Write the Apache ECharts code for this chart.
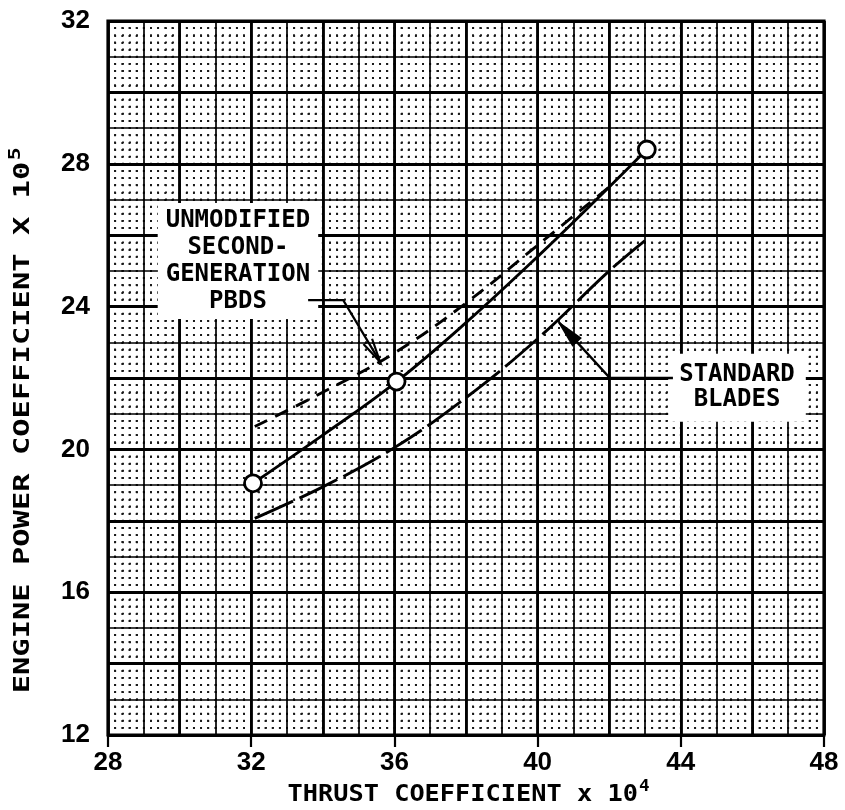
<!DOCTYPE html>
<html>
<head>
<meta charset="utf-8">
<script src="https://cdn.jsdelivr.net/npm/echarts@6/dist/echarts.min.js"></script>
<style>
  html, body { margin: 0; padding: 0; background: #fff; }
  #chart { width: 845px; height: 810px; }
</style>
</head>
<body>
<div id="chart"></div>
<script>
// Axis tick values
const xTicks = [28, 32, 36, 40, 44, 48];
const yTicks = [12, 16, 20, 24, 28, 32];

// Faired curve through the measured points
const solidThrust = [32.05, 34, 36, 38, 40, 42, 43.05];
const solidPower  = [19.05, 20.4, 21.85, 23.55, 25.4, 27.35, 28.4];

// Measured points (circles)
const testThrust = [32.05, 36.06, 43.05];
const testPower  = [19.05, 21.9, 28.4];

// Unmodified second-generation PBDS
const pbdsThrust = [32.1, 34, 36, 38, 40, 42];
const pbdsPower  = [20.64, 21.6, 22.7, 24.1, 25.72, 27.35];

// Standard blades
const stdThrust = [32.1, 34, 36, 38, 40, 42, 43];
const stdPower  = [18.07, 18.95, 20.05, 21.45, 23.1, 25.0, 25.85];

// Callout anchors in chart units
const pbdsLabelAt = [31.63, 25.28];
const pbdsLeader  = [[33.59, 24.18], [34.57, 24.18], [35.6, 22.45]];
const stdLabelAt  = [45.57, 21.73];
const stdLeader   = [[43.78, 22.0], [42.02, 22.0], [40.6, 23.55]];

const zip = (xs, ys) => xs.map((x, i) => [x, ys[i]]);

const X0 = xTicks[0], X1 = xTicks[xTicks.length - 1];
const Y0 = yTicks[0], Y1 = yTicks[yTicks.length - 1];
const xStep = xTicks[1] - xTicks[0];
const yStep = yTicks[1] - yTicks[0];

const GRID = { left: 108, top: 21, width: 716, height: 714 };

// Graph-paper rulings: dotted fifths, fine units, heavier every two units
function ruling(min, max, interval, lineStyle, z) {
  return {
    type: 'value', min, max, interval, z,
    axisLine: { show: false }, axisTick: { show: false }, axisLabel: { show: false },
    splitLine: { show: true, lineStyle }
  };
}
const dotPeriodV = GRID.height / ((Y1 - Y0) * 5);
const dotPeriodH = GRID.width / ((X1 - X0) * 5);
const dotLen = 1.9;

const labelFont = { fontFamily: 'Liberation Sans', fontWeight: 'bold', fontSize: 26, color: '#000' };

const option = {
  animation: false,
  backgroundColor: '#fff',
  grid: Object.assign({ show: true, borderColor: '#000', borderWidth: 3.2, containLabel: false }, GRID),
  xAxis: [
    {
      type: 'value', min: X0, max: X1, interval: xStep, z: 5, position: 'bottom',
      axisLine: { show: false },
      axisTick: { show: true, inside: false, length: 12, lineStyle: { color: '#000', width: 2.2 } },
      axisLabel: Object.assign({ margin: 15 }, labelFont),
      splitLine: { show: false }
    },
    ruling(X0, X1, 0.2, { color: '#1a1a1a', width: dotLen, type: [dotLen, dotPeriodV - dotLen], dashOffset: dotLen / 2 }, 0),
    ruling(X0, X1, 1, { color: '#000', width: 1.7 }, 1),
    ruling(X0, X1, 2, { color: '#000', width: 2.8 }, 1)
  ],
  yAxis: [
    {
      type: 'value', min: Y0, max: Y1, interval: yStep, z: 5,
      axisLine: { show: false }, axisTick: { show: false },
      axisLabel: Object.assign({ margin: 18 }, labelFont),
      splitLine: { show: false }
    },
    ruling(Y0, Y1, 0.2, { color: '#1a1a1a', width: dotLen, type: [dotLen, dotPeriodH - dotLen], dashOffset: dotLen / 2 }, 0),
    ruling(Y0, Y1, 1, { color: '#000', width: 1.7 }, 1),
    ruling(Y0, Y1, 2, { color: '#000', width: 2.8 }, 1)
  ],
  series: [
    {
      name: 'Measured', type: 'line', xAxisIndex: 0, yAxisIndex: 0,
      data: zip(solidThrust, solidPower), smooth: 0.4, symbol: 'none', z: 3,
      lineStyle: { color: '#000', width: 2.9 }
    },
    {
      name: 'Unmodified second-generation PBDS', type: 'line', xAxisIndex: 0, yAxisIndex: 0,
      data: zip(pbdsThrust, pbdsPower), smooth: 0.4, symbol: 'none', z: 3,
      lineStyle: { color: '#000', width: 2.9, type: [14, 9] }
    },
    {
      name: 'Standard blades', type: 'line', xAxisIndex: 0, yAxisIndex: 0,
      data: zip(stdThrust, stdPower), smooth: 0.4, symbol: 'none', z: 3,
      lineStyle: { color: '#000', width: 2.9, type: [42, 7] }
    },
    {
      name: 'Test points', type: 'scatter', xAxisIndex: 0, yAxisIndex: 0,
      data: zip(testThrust, testPower), symbol: 'circle', symbolSize: 17, z: 4,
      itemStyle: { color: '#fff', borderColor: '#000', borderWidth: 2.8, opacity: 1 }
    }
  ]
};

const chart = echarts.init(document.getElementById('chart'), null, { renderer: 'canvas' });
chart.setOption(option);

const px = p => chart.convertToPixel({ xAxisIndex: 0, yAxisIndex: 0 }, p);

// Text measuring for the superscripted axis titles
const mctx = document.createElement('canvas').getContext('2d');
function textWidth(s, font) { mctx.font = font; return mctx.measureText(s).width; }

const TITLE_FAMILY = '"DejaVu Sans Mono"';
function titleGroup(main, sup, size, supSize, cx, cy, rotation, scaleX, raise) {
  const font = 'bold ' + size + 'px ' + TITLE_FAMILY;
  const supFont = 'bold ' + supSize + 'px ' + TITLE_FAMILY;
  const wMain = textWidth(main, font);
  const wSup = textWidth(sup, supFont);
  const start = -(wMain + wSup) / 2;
  return {
    type: 'group', x: cx, y: cy, rotation, scaleX, z: 20,
    children: [
      { type: 'text', x: start, y: 0, z: 20,
        style: { text: main, font, fill: '#000', align: 'left', verticalAlign: 'middle' } },
      { type: 'text', x: start + wMain + 1, y: -raise, z: 20,
        style: { text: sup, font: supFont, fill: '#000', align: 'left', verticalAlign: 'middle' } }
    ]
  };
}

function calloutText(text, at, lineHeight, padding) {
  const p = px(at);
  return {
    type: 'text', x: p[0], y: p[1], z: 15,
    style: {
      text, font: 'bold 24px ' + TITLE_FAMILY, fill: '#000',
      align: 'center', verticalAlign: 'middle', lineHeight,
      backgroundColor: '#fff', padding
    }
  };
}

function arrowHead(tip, from, len, half) {
  const dx = tip[0] - from[0], dy = tip[1] - from[1];
  const d = Math.hypot(dx, dy);
  const ux = dx / d, uy = dy / d;
  const bx = tip[0] - ux * len, by = tip[1] - uy * len;
  return [[bx - uy * half, by + ux * half], tip, [bx + uy * half, by - ux * half]];
}

const pbdsPts = pbdsLeader.map(px);
const stdPts = stdLeader.map(px);
const pbdsHead = arrowHead(pbdsPts[2], pbdsPts[1], 24, 5);
const stdHead = arrowHead(stdPts[2], stdPts[1], 26, 5.5);

chart.setOption({
  graphic: [
    calloutText('UNMODIFIED\nSECOND-\nGENERATION\nPBDS', pbdsLabelAt, 27, [5, 8, 3, 8]),
    calloutText('STANDARD\nBLADES', stdLabelAt, 25, [10, 11, 8, 11]),
    { type: 'polyline', z: 16, shape: { points: pbdsPts },
      style: { stroke: '#000', lineWidth: 2.2, fill: null } },
    { type: 'polyline', z: 16, shape: { points: pbdsHead },
      style: { stroke: '#000', lineWidth: 2.2, fill: null } },
    { type: 'polyline', z: 16, shape: { points: stdPts },
      style: { stroke: '#000', lineWidth: 2.4, fill: null } },
    { type: 'polygon', z: 16, shape: { points: stdHead },
      style: { stroke: '#000', lineWidth: 1.5, fill: '#000' } },
    titleGroup('ENGINE POWER COEFFICIENT X 10', '5', 21, 15, 24, 421, Math.PI / 2, 1.45, 8),
    titleGroup('THRUST COEFFICIENT x 10', '4', 23, 16, 468, 795, 0, 1.1, 8)
  ]
});
</script>
</body>
</html>
